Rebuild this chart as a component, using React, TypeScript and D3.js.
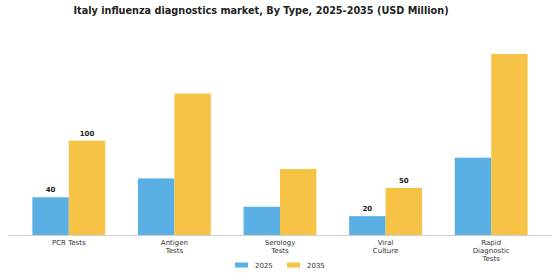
import React, { useEffect, useRef } from 'react';
import * as d3 from 'd3';

const categories = ['PCR Tests', 'Antigen Tests', 'Serology Tests', 'Viral Culture', 'Rapid Diagnostic Tests'];
const categoryLines = [['PCR Tests'], ['Antigen', 'Tests'], ['Serology', 'Tests'], ['Viral', 'Culture'], ['Rapid', 'Diagnostic', 'Tests']];
const values2025 = [40, 60, 30, 20, 82];
const values2035 = [100, 150, 70, 50, 192];
// only some bars carry a value label in the reference
const labeled = [true, false, false, true, false];
const seriesNames = ['2025', '2035'];
const colors = ['#5aafe4', '#f7c346'];

const App: React.FC = () => {
  const svgRef = useRef<SVGSVGElement>(null);

  useEffect(() => {
    if (!svgRef.current) return;
    const baseY = 235;
    const font = 'DejaVu Sans, sans-serif';

    const svg = d3.select(svgRef.current);
    svg.selectAll('*').remove();

    svg.append('text')
      .attr('x', 261)
      .attr('y', 14)
      .attr('text-anchor', 'middle')
      .style('font-family', font)
      .style('font-size', '9.7px')
      .style('font-weight', 'bold')
      .style('fill', '#222')
      .text('Italy influenza diagnostics market, By Type, 2025-2035 (USD Million)');

    const x = d3.scaleBand<string>()
      .domain(categories)
      .range([16, 544])
      .paddingInner(0.31)
      .paddingOuter(0.155);

    const xs = d3.scaleBand<string>()
      .domain(seriesNames)
      .range([0, x.bandwidth()]);

    const y = d3.scaleLinear()
      .domain([0, 100])
      .range([baseY, baseY - 94.3]);

    const series = [values2025, values2035];

    series.forEach((vals, si) => {
      const barX = (i: number) => (x(categories[i]) ?? 0) + (xs(seriesNames[si]) ?? 0);

      svg.append('g')
        .selectAll('rect')
        .data(vals)
        .enter()
        .append('rect')
        .attr('x', (d, i) => barX(i))
        .attr('y', d => y(d))
        .attr('width', xs.bandwidth())
        .attr('height', d => baseY - y(d))
        .style('fill', colors[si]);

      vals.forEach((v, i) => {
        if (!labeled[i]) return;
        svg.append('text')
          .attr('x', barX(i) + xs.bandwidth() / 2)
          .attr('y', y(v) - 5)
          .attr('text-anchor', 'middle')
          .style('font-family', font)
          .style('font-size', '7px')
          .style('font-weight', 'bold')
          .style('fill', '#222')
          .text(v);
      });
    });

    svg.append('line')
      .attr('x1', 8)
      .attr('x2', 552)
      .attr('y1', baseY + 0.5)
      .attr('y2', baseY + 0.5)
      .style('stroke', '#d0d0d0')
      .style('stroke-width', 1);

    categories.forEach((c, i) => {
      const cx = (x(c) ?? 0) + x.bandwidth() / 2;
      const t = svg.append('text')
        .attr('x', cx)
        .attr('y', 245)
        .attr('text-anchor', 'middle')
        .style('font-family', font)
        .style('font-size', '7px')
        .style('fill', '#333');
      categoryLines[i].forEach((line, li) => {
        t.append('tspan')
          .attr('x', cx)
          .attr('dy', li === 0 ? 0 : 8)
          .text(line);
      });
    });

    const legendX = [235, 287];
    seriesNames.forEach((s, i) => {
      svg.append('rect')
        .attr('x', legendX[i])
        .attr('y', 262.5)
        .attr('width', 13)
        .attr('height', 5)
        .style('fill', colors[i]);
      svg.append('text')
        .attr('x', legendX[i] + 20)
        .attr('y', 267.5)
        .style('font-family', font)
        .style('font-size', '7px')
        .style('fill', '#333')
        .text(s);
    });
  }, []);

  return (
    <svg ref={svgRef} width={560} height={280} style={{ position: 'absolute', left: 0, top: 0, background: '#fff' }} />
  );
};

export default App;
